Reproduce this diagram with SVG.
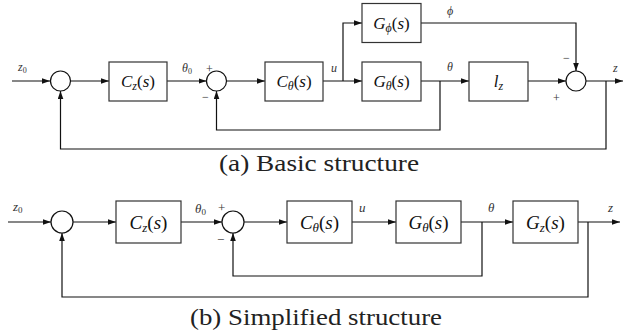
<svg xmlns="http://www.w3.org/2000/svg" width="632" height="334" viewBox="0 0 632 334">
<style>
.ln{fill:none;stroke:#111;stroke-width:1.2}
.bx{fill:#fff;stroke:#333;stroke-width:1.2}
.sj{fill:#fff;stroke:#111;stroke-width:1.2}
text{font-family:"Liberation Serif","Times New Roman",serif;fill:#111}
.m{font-style:italic}
.up{font-style:normal}
.s{font-size:12px;fill:#333}
.s2{font-size:13px;fill:#333}
.b1{font-size:17px;text-anchor:middle}
.b2{font-size:19px;text-anchor:middle}
.cap{font-size:23px;text-anchor:middle;fill:#222}
</style>
<defs>
<marker id="ar" markerUnits="userSpaceOnUse" markerWidth="9" markerHeight="6" refX="8" refY="2.8" orient="auto">
<path d="M0,0 L8,2.8 L0,5.6 z" fill="#111"/>
</marker>
</defs>

<g id="connectors">
<path class="ln" d="M12,81 H50" marker-end="url(#ar)"/>
<path class="ln" d="M70.5,81 H109" marker-end="url(#ar)"/>
<path class="ln" d="M167,81 H206.5" marker-end="url(#ar)"/>
<path class="ln" d="M226.5,81 H265" marker-end="url(#ar)"/>
<path class="ln" d="M323,81 H362" marker-end="url(#ar)"/>
<path class="ln" d="M343,81 V23 H362" marker-end="url(#ar)"/>
<path class="ln" d="M421,81 H469" marker-end="url(#ar)"/>
<path class="ln" d="M440,81 V130 H216.5 V91" marker-end="url(#ar)"/>
<path class="ln" d="M528,81 H566" marker-end="url(#ar)"/>
<path class="ln" d="M421,23 H576 V71" marker-end="url(#ar)"/>
<path class="ln" d="M586,81 H623" marker-end="url(#ar)"/>
<path class="ln" d="M606,81 V149 H60.5 V91" marker-end="url(#ar)"/>
<path class="ln" d="M8,222 H51" marker-end="url(#ar)"/>
<path class="ln" d="M73,222 H116" marker-end="url(#ar)"/>
<path class="ln" d="M181,222 H222" marker-end="url(#ar)"/>
<path class="ln" d="M244,222 H287" marker-end="url(#ar)"/>
<path class="ln" d="M352,222 H396" marker-end="url(#ar)"/>
<path class="ln" d="M461,222 H513" marker-end="url(#ar)"/>
<path class="ln" d="M482,222 V276 H233 V233" marker-end="url(#ar)"/>
<path class="ln" d="M578,222 H620" marker-end="url(#ar)"/>
<path class="ln" d="M588,222 V297 H62 V233" marker-end="url(#ar)"/>
</g>

<g id="a_sum1"><circle class="sj" cx="60.5" cy="81" r="10"/></g>
<g id="a_Cz"><rect class="bx" x="109" y="62" width="58" height="39"/>
<text class="b1 m" x="138" y="87">C<tspan font-size="12" dy="3">z</tspan><tspan class="up" dy="-3">(</tspan>s<tspan class="up">)</tspan></text></g>
<g id="a_sum2"><circle class="sj" cx="216.5" cy="81" r="10"/></g>
<g id="a_Ctheta"><rect class="bx" x="265" y="62" width="58" height="39"/>
<text class="b1 m" x="294" y="87">C<tspan font-size="12" dy="3">θ</tspan><tspan class="up" dy="-3">(</tspan>s<tspan class="up">)</tspan></text></g>
<g id="a_Gphi"><rect class="bx" x="362" y="3.5" width="59" height="39"/>
<text class="b1 m" x="391.5" y="29">G<tspan font-size="12" dy="3">ϕ</tspan><tspan class="up" dy="-3">(</tspan>s<tspan class="up">)</tspan></text></g>
<g id="a_Gtheta"><rect class="bx" x="362" y="62" width="59" height="39"/>
<text class="b1 m" x="391.5" y="87">G<tspan font-size="12" dy="3">θ</tspan><tspan class="up" dy="-3">(</tspan>s<tspan class="up">)</tspan></text></g>
<g id="a_lz"><rect class="bx" x="469" y="62" width="59" height="39"/>
<text class="b1 m" x="498.5" y="87">l<tspan font-size="12" dy="3">z</tspan></text></g>
<g id="a_sum3"><circle class="sj" cx="576" cy="81" r="10"/></g>

<g id="a_labels">
<text class="s m" x="18" y="71">z<tspan class="up" font-size="8" dy="2">0</tspan></text>
<text class="s m" x="182" y="72">θ<tspan class="up" font-size="8" dy="2">0</tspan></text>
<text class="s" x="206" y="73">+</text>
<text class="s" x="202" y="101">−</text>
<text class="s m" x="331" y="72">u</text>
<text class="s m" x="447" y="71">θ</text>
<text class="s m" x="447" y="15">ϕ</text>
<text class="s" x="563" y="62">−</text>
<text class="s" x="553" y="102">+</text>
<text class="s m" x="613" y="72">z</text>
</g>
<text id="cap_a" class="cap" x="319" y="171" textLength="200" lengthAdjust="spacingAndGlyphs">(a) Basic structure</text>

<g id="b_sum1"><circle class="sj" cx="62" cy="222" r="11"/></g>
<g id="b_Cz"><rect class="bx" x="116" y="201" width="65" height="42"/>
<text class="b2 m" x="148.5" y="229">C<tspan font-size="13" dy="3">z</tspan><tspan class="up" dy="-3">(</tspan>s<tspan class="up">)</tspan></text></g>
<g id="b_sum2"><circle class="sj" cx="233" cy="222" r="11"/></g>
<g id="b_Ctheta"><rect class="bx" x="287" y="201" width="65" height="42"/>
<text class="b2 m" x="319.5" y="229">C<tspan font-size="13" dy="3">θ</tspan><tspan class="up" dy="-3">(</tspan>s<tspan class="up">)</tspan></text></g>
<g id="b_Gtheta"><rect class="bx" x="396" y="201" width="65" height="42"/>
<text class="b2 m" x="428.5" y="229">G<tspan font-size="13" dy="3">θ</tspan><tspan class="up" dy="-3">(</tspan>s<tspan class="up">)</tspan></text></g>
<g id="b_Gz"><rect class="bx" x="513" y="201" width="65" height="42"/>
<text class="b2 m" x="545.5" y="229">G<tspan font-size="13" dy="3">z</tspan><tspan class="up" dy="-3">(</tspan>s<tspan class="up">)</tspan></text></g>

<g id="b_labels">
<text class="s2 m" x="13" y="211">z<tspan class="up" font-size="9" dy="2">0</tspan></text>
<text class="s2 m" x="195" y="213">θ<tspan class="up" font-size="9" dy="2">0</tspan></text>
<text class="s2" x="218" y="212">+</text>
<text class="s2" x="217" y="244">−</text>
<text class="s2 m" x="359" y="212">u</text>
<text class="s2 m" x="488" y="212">θ</text>
<text class="s2 m" x="608" y="212">z</text>
</g>
<text id="cap_b" class="cap" x="316" y="325" textLength="252" lengthAdjust="spacingAndGlyphs">(b) Simplified structure</text>
</svg>
